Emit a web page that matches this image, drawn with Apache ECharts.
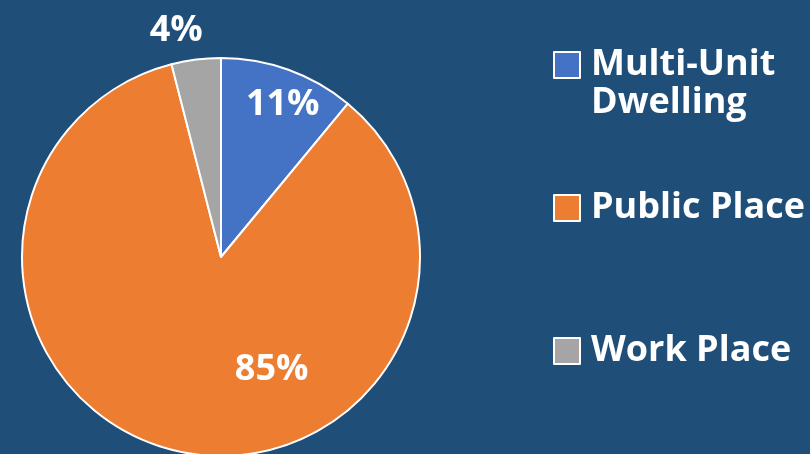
<!DOCTYPE html>
<html>
<head>
<meta charset="utf-8">
<script src="https://cdn.jsdelivr.net/npm/echarts@6/dist/echarts.min.js"></script>
<style>
  html, body { margin: 0; padding: 0; background: #1F4E79; }
  #main { width: 810px; height: 454px; }
</style>
</head>
<body>
<div id="main"></div>
<script>
// data
var categories = ['Multi-Unit\nDwelling', 'Public Place', 'Work Place'];
var values = [11, 85, 4];
var colors = ['#4472C4', '#ED7D31', '#A5A5A5'];
// label nudges from the default 'inside' spot (px)
var labelShift = [[27, -56], [73, 13], [-32, -125]];

var chart = echarts.init(document.getElementById('main'));

var pieData = categories.map(function (name, i) {
  return { name: name, value: values[i], itemStyle: { color: colors[i] } };
});

// two-line item gets a blank line on top (see formatter), so line 1 sits level with the box
var legendData = categories.map(function (name) {
  var twoLines = name.indexOf('\n') >= 0;
  return {
    name: name,
    textStyle: { padding: twoLines ? [0, 0, 0, 6] : [38, 0, 38, 6] }
  };
});

var option = {
  backgroundColor: '#1F4E79',
  animation: false,
  legend: {
    orient: 'vertical',
    left: 548,
    top: 3,
    icon: 'rect',
    itemWidth: 26,
    itemHeight: 26,
    itemGap: 29,
    itemStyle: { borderColor: '#fff', borderWidth: 2 },
    formatter: function (name) {
      return name.indexOf('\n') >= 0 ? ' \n' + name : name;
    },
    textStyle: {
      color: '#fff',
      fontFamily: 'Open Sans',
      fontWeight: 'bold',
      fontSize: 36,
      lineHeight: 38
    },
    data: legendData
  },
  series: [{
    type: 'pie',
    center: [221, 257],
    radius: 199,
    startAngle: 90,
    clockwise: true,
    itemStyle: { borderColor: '#fff', borderWidth: 2 },
    label: {
      show: true,
      position: 'inside',
      formatter: '{d}%',
      color: '#fff',
      fontFamily: 'Open Sans',
      fontWeight: 'bold',
      fontSize: 36
    },
    labelLine: { show: false },
    labelLayout: function (params) {
      var s = labelShift[params.dataIndex];
      return { dx: s[0], dy: s[1] };
    },
    emphasis: { disabled: true },
    data: pieData
  }]
};

chart.setOption(option);
</script>
</body>
</html>
